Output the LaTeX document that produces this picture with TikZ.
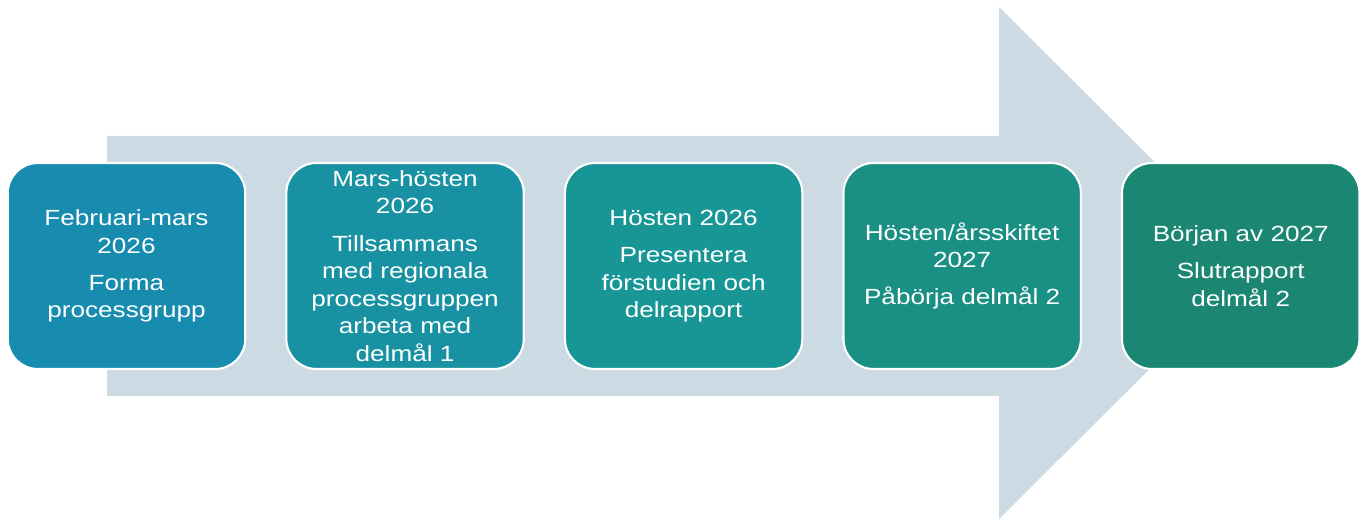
\documentclass[tikz,border=0pt]{standalone}
\usepackage{fontspec}
\setmainfont{Liberation Sans}[FakeStretch=1.19]
\usetikzlibrary{positioning}
\definecolor{arrowgray}{RGB}{204,218,227}
\definecolor{phaseA}{RGB}{23,140,175}
\definecolor{phaseB}{RGB}{24,146,162}
\definecolor{phaseC}{RGB}{24,150,150}
\definecolor{phaseD}{RGB}{26,143,132}
\definecolor{phaseE}{RGB}{27,135,115}
\tikzstyle{phase} = [draw=white,line width=1.2pt,rounded corners=0.6cm,
	minimum width=4.75cm,minimum height=4.12cm,text width=4.6cm,inner sep=2pt,
	align=center,text=white,font=\fontsize{12.5}{15.7}\selectfont]
\def \gap{\\[5.5pt]}

\begin{document}
\begin{tikzpicture}[x=0.02cm,y=-0.02cm]
		\useasboundingbox (0,0) rectangle (1365,520);
		
		% define constants
		\def \sl {136}
		\def \sh {396}
		\def \hx {999}
		
		% Draw the big arrow
		\fill[arrowgray] (107,\sl) -- (\hx,\sl) -- (\hx,7) -- (1256,263)
			-- (\hx,519) -- (\hx,\sh) -- (107,\sh) -- cycle;
		
		% Draw the phases
		\node[phase,fill=phaseA] (feb) at (126.5,266) {Februari-mars\\2026\gap Forma\\processgrupp};
		\node[phase,fill=phaseB,right=0.78cm of feb] (mars) {Mars-hösten\\2026\gap Tillsammans\\med regionala\\processgruppen\\arbeta med\\delmål 1};
		\node[phase,fill=phaseC,right=0.78cm of mars] (host) {Hösten 2026\gap Presentera\\förstudien och\\delrapport};
		\node[phase,fill=phaseD,right=0.78cm of host] (arss) {Hösten/årsskiftet\\2027\gap Påbörja delmål 2};
		\node[phase,fill=phaseE,right=0.78cm of arss] (borj) {Början av 2027\gap Slutrapport\\delmål 2};
		
		\end{tikzpicture}
\end{document}
